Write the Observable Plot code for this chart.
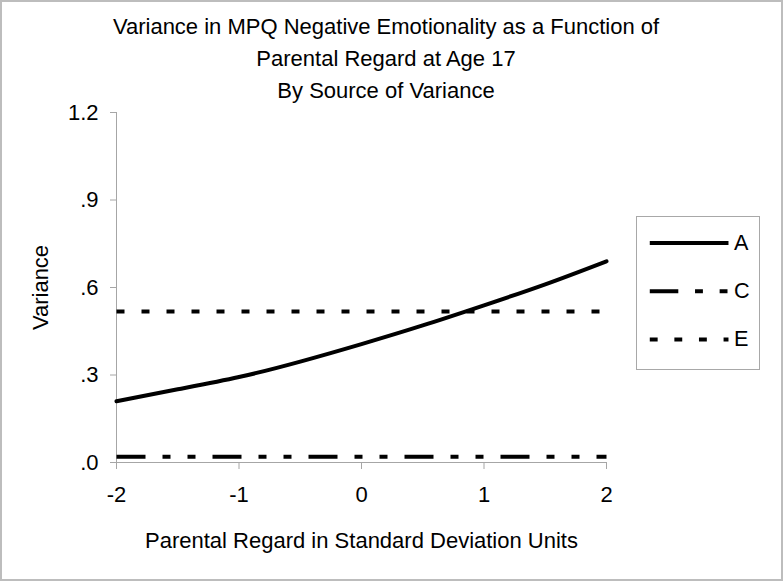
<!DOCTYPE html>
<html>
<head>
<meta charset="utf-8">
<script src="https://cdn.jsdelivr.net/npm/d3@7"></script>
<script src="https://cdn.jsdelivr.net/npm/@observablehq/plot@0.6"></script>
<style>
  html, body { margin: 0; padding: 0; background: white; }
  #wrap { position: relative; width: 783px; height: 581px; overflow: hidden; background: white;
          font-family: "Liberation Sans", Arial, sans-serif; }
  #wrap svg { position: absolute; left: 0; top: 0; }
  #title { position: absolute; left: 0; top: 11px; width: 772px; text-align: center;
           font-size: 22px; line-height: 32px; color: black; }
  #legend { position: absolute; left: 636px; top: 216px; width: 124px; height: 154px;
            box-sizing: border-box; border: 1px solid #a8a8a8; background: white; }
  #legend svg { left: -1px; top: -1px; overflow: visible; }
  #frame { position: absolute; left: 0; top: 0; width: 783px; height: 581px; box-sizing: border-box;
           border: 2px solid #bdbdbd; pointer-events: none; }
</style>
</head>
<body>
<div id="wrap">
  <div id="chart"></div>
  <div id="title">Variance in MPQ Negative Emotionality as a Function of<br>Parental Regard at Age 17<br>By Source of Variance</div>
  <div id="legend"></div>
  <div id="frame"></div>
</div>
<script>
// Data
const xs = [-2, -1.5, -1, -0.5, 0, 0.5, 1, 1.5, 2];
const A = [0.210, 0.251, 0.293, 0.346, 0.406, 0.470, 0.539, 0.611, 0.690];
const C = [0.02, 0.02, 0.02, 0.02, 0.02, 0.02, 0.02, 0.02, 0.02];
const E = [0.518, 0.518, 0.518, 0.518, 0.518, 0.518, 0.518, 0.518, 0.518];
const series = ["A", "C", "E"];
const xTicks = [-2, -1, 0, 1, 2];
const yTicks = [0, 0.3, 0.6, 0.9, 1.2];
const xTitle = "Parental Regard in Standard Deviation Units";
const yTitle = "Variance";

const font = '"Liberation Sans", Arial, sans-serif';
const axisGray = "#a6a6a6";
const dashC = "29,17,8,17,8,17";
const dashE = "8,17";
const fmtY = d => d >= 1 ? d.toFixed(1) : d.toFixed(1).replace(/^0/, "");

const chart = Plot.plot({
  width: 783,
  height: 581,
  marginLeft: 116,
  marginRight: 177,
  marginTop: 112,
  marginBottom: 119,
  style: { fontFamily: font, fontSize: "22px", color: "black", background: "white" },
  x: { domain: [-2, 2] },
  y: { domain: [0, 1.2] },
  marks: [
    Plot.axisY(yTicks, { tickSize: 6, tickPadding: 12, tickFormat: fmtY, stroke: axisGray, fill: "black", fontSize: 22, label: null }),
    Plot.axisX(xTicks, { tickSize: 7, tickPadding: 17, tickFormat: d => String(d).replace("−", "-"), stroke: axisGray, fill: "black", fontSize: 22, label: null }),
    Plot.ruleX([-2], { stroke: axisGray, strokeWidth: 1 }),
    Plot.ruleY([0], { stroke: axisGray, strokeWidth: 1 }),
    Plot.text([yTitle], { frameAnchor: "left", dx: -76, rotate: -90, textAnchor: "middle", lineAnchor: "middle", text: d => d, fontSize: 22, fill: "black" }),
    Plot.text([xTitle], { frameAnchor: "bottom", dy: 78, textAnchor: "middle", lineAnchor: "middle", text: d => d, fontSize: 22, fill: "black" }),
    Plot.line(E, { x: xs, y: E, stroke: "black", strokeWidth: 4, strokeDasharray: dashE, strokeLinecap: "butt" }),
    Plot.line(C, { x: xs, y: C, stroke: "black", strokeWidth: 4, strokeDasharray: dashC, strokeLinecap: "butt" }),
    Plot.line(A, { x: xs, y: A, curve: "natural", stroke: "black", strokeWidth: 4, strokeLinecap: "round" })
  ]
});
document.getElementById("chart").appendChild(chart);

const dashes = { A: null, C: dashC, E: dashE };
const legend = Plot.plot({
  width: 124,
  height: 154,
  margin: 0,
  style: { fontFamily: font, fontSize: "22px", color: "black", background: "transparent", overflow: "visible" },
  x: { domain: [0, 1], range: [14, 94], axis: null },
  y: { type: "point", domain: series, range: [26, 125], padding: 0, axis: null },
  marks: [
    ...series.map(s => Plot.ruleY([s], { y: d => d, x1: 0, x2: 1, stroke: "black", strokeWidth: 4, strokeDasharray: dashes[s], strokeLinecap: "butt" })),
    Plot.text(series, { x: 1, y: d => d, text: d => d, dx: 5, textAnchor: "start", fontSize: 22, fill: "black" })
  ]
});
document.getElementById("legend").appendChild(legend);
</script>
</body>
</html>
